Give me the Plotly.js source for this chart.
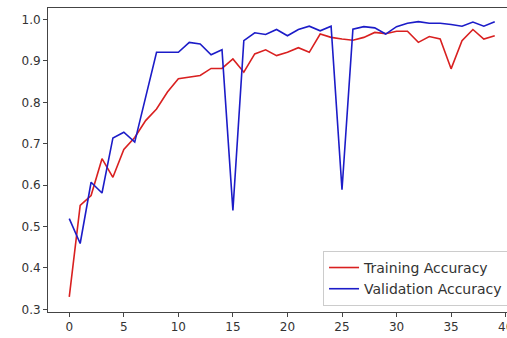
<!DOCTYPE html>
<html><head><meta charset="utf-8">
<script src="https://cdn.plot.ly/plotly-3.0.1.min.js"></script>
<style>html,body{margin:0;padding:0;overflow:hidden;background:#fff}#chart{width:525px;height:338px}</style>
</head><body><div id="chart"></div><script>
const epochs = [0,1,2,3,4,5,6,7,8,9,10,11,12,13,14,15,16,17,18,19,20,21,22,23,24,25,26,27,28,29,30,31,32,33,34,35,36,37,38,39];
const trainingAccuracy = [0.330,0.551,0.575,0.664,0.619,0.686,0.715,0.756,0.784,0.825,0.857,0.861,0.865,0.882,0.882,0.905,0.873,0.917,0.927,0.913,0.921,0.932,0.921,0.965,0.957,0.953,0.950,0.957,0.969,0.966,0.972,0.972,0.945,0.959,0.953,0.881,0.949,0.976,0.953,0.961];
const validationAccuracy = [0.519,0.459,0.607,0.581,0.714,0.728,0.704,0.810,0.921,0.921,0.921,0.945,0.941,0.915,0.927,0.539,0.949,0.968,0.964,0.976,0.961,0.976,0.984,0.973,0.984,0.589,0.977,0.983,0.980,0.965,0.983,0.991,0.995,0.991,0.991,0.988,0.984,0.994,0.984,0.995];
const xTicks = [0,5,10,15,20,25,30,35,40];
const yTicks = [0.3,0.4,0.5,0.6,0.7,0.8,0.9,1.0];
const yTickLabels = ["0.3","0.4","0.5","0.6","0.7","0.8","0.9","1.0"];

const traces = [
  {x: epochs, y: trainingAccuracy, type: 'scatter', mode: 'lines', name: 'Training Accuracy',
   line: {color: '#d92020', width: 1.6}},
  {x: epochs, y: validationAccuracy, type: 'scatter', mode: 'lines', name: 'Validation Accuracy',
   line: {color: '#1c1cc8', width: 1.6}}
];
const axisCommon = {
  showgrid: false, zeroline: false, showline: true, mirror: true,
  linecolor: '#444', linewidth: 1, ticks: 'outside', ticklen: 4, tickwidth: 1, tickcolor: '#444',
  tickfont: {family: 'DejaVu Sans', size: 12, color: '#333'}
};
const layout = {
  width: 525, height: 338,
  margin: {l: 48, r: 9, t: 8, b: 26, pad: 0},
  paper_bgcolor: '#fff', plot_bgcolor: '#fff',
  showlegend: true,
  xaxis: Object.assign({}, axisCommon, {range: [-1.95, 40.95], tickvals: xTicks, ticktext: xTicks.map(String)}),
  yaxis: Object.assign({}, axisCommon, {range: [0.2935, 1.028], tickvals: yTicks, ticktext: yTickLabels}),
  legend: {x: 0.983, y: 0.02, xanchor: 'right', yanchor: 'bottom',
    bgcolor: 'rgba(255,255,255,0.8)', bordercolor: '#cccccc', borderwidth: 1,
    font: {family: 'DejaVu Sans', size: 14, color: '#333'}}
};
Plotly.newPlot('chart', traces, layout, {staticPlot: true, displayModeBar: false});
</script></body></html>
